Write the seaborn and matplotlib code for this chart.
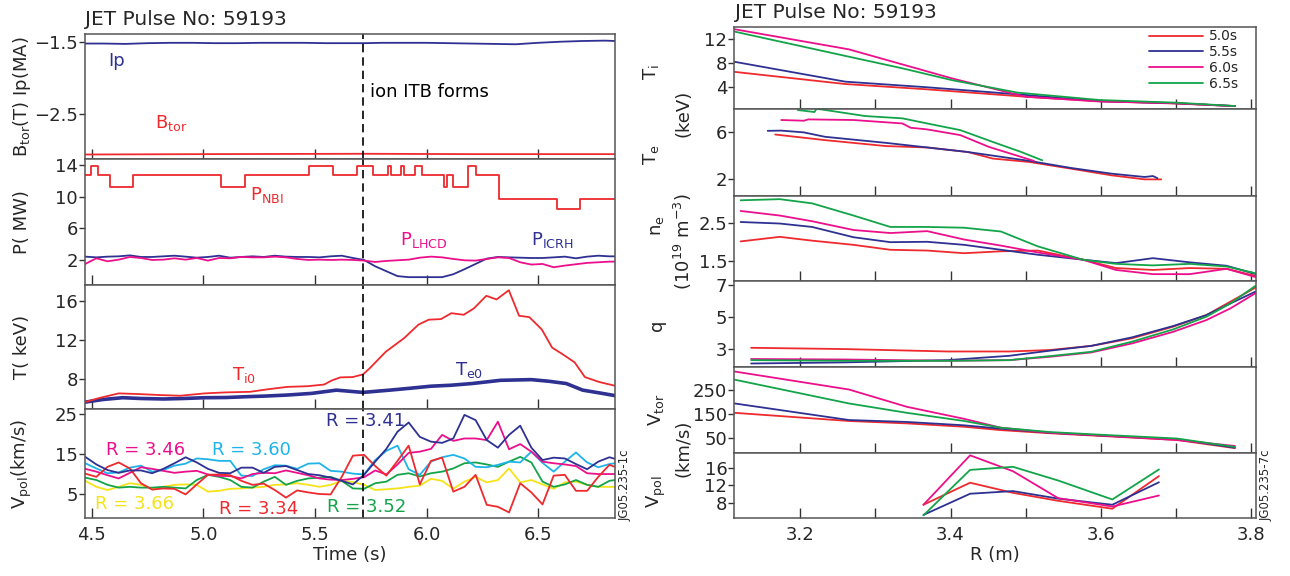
import matplotlib
matplotlib.use('Agg')
import matplotlib.pyplot as plt
import seaborn as sns

sns.set_theme(style='white')
plt.rcParams['font.family'] = ['DejaVu Sans']
plt.rcParams['mathtext.default'] = 'regular'
plt.rcParams['axes.unicode_minus'] = True

RED = '#ee2a2e'
NAVY = '#2e3192'
MAGENTA = '#ec0f8c'
GREEN = '#13a44a'
CYAN = '#1eb4ea'
YELLOW = '#f5e31a'

ITB_TIME = 5.715

# ---------------- left column: time traces ----------------
IP_T = [4.47, 4.55, 4.65, 4.75, 4.85, 4.95, 5.05, 5.15, 5.25, 5.35, 5.45, 5.55, 5.65, 5.72,
        5.8, 5.9, 6.0, 6.1, 6.2, 6.3, 6.4, 6.5, 6.6, 6.7, 6.8, 6.845]
IP_MA = [-1.525, -1.525, -1.53, -1.52, -1.515, -1.515, -1.52, -1.52, -1.515, -1.515, -1.515,
         -1.52, -1.52, -1.52, -1.515, -1.515, -1.515, -1.52, -1.525, -1.53, -1.535, -1.515,
         -1.50, -1.49, -1.485, -1.49]
BTOR_T = [4.47, 5.0, 5.72, 6.2, 6.845]
BTOR_VAL = [-3.05, -3.045, -3.04, -3.045, -3.045]

NBI_T = [4.467, 4.494, 4.528, 4.583, 4.684, 5.080, 5.185, 5.471, 5.581, 5.688, 5.762, 5.826,
         5.841, 5.887, 5.900, 5.949, 5.982, 6.080, 6.093, 6.117, 6.185, 6.222, 6.323, 6.585,
         6.686, 6.848]
NBI_MW = [12.7, 13.9, 12.7, 11.25, 12.7, 11.25, 12.7, 13.9, 12.7, 13.9, 12.7, 13.9,
          12.7, 13.9, 12.7, 13.9, 12.7, 11.25, 12.7, 11.25, 13.9, 12.7, 9.66, 8.4,
          9.66, 9.66]

T_GRID = [4.47, 4.52, 4.57, 4.62, 4.67, 4.72, 4.77, 4.82, 4.87, 4.92, 4.97, 5.02, 5.07,
          5.12, 5.17, 5.22, 5.27, 5.32, 5.37, 5.42, 5.47, 5.52, 5.57, 5.62, 5.67, 5.72,
          5.77, 5.82, 5.87, 5.92, 5.97, 6.02, 6.07, 6.12, 6.17, 6.22, 6.27, 6.32, 6.37,
          6.42, 6.47, 6.52, 6.57, 6.62, 6.67, 6.72, 6.77, 6.82, 6.845]

ICRH_MW = [2.42, 2.33, 2.42, 2.46, 2.58, 2.38, 2.38, 2.46, 2.54, 2.42, 2.29, 2.38, 2.54,
           2.29, 2.38, 2.46, 2.38, 2.54, 2.42, 2.38, 2.38, 2.33, 2.46, 2.54, 2.25, 2.0,
           1.2, 0.58, -0.04, -0.17, -0.17, -0.17, -0.17, 0.2, 0.83, 1.5, 2.17, 2.38,
           2.33, 2.29, 2.25, 2.25, 2.33, 2.42, 2.21, 2.42, 2.54, 2.46, 2.46]
LHCD_MW = [1.5, 2.21, 1.83, 2.04, 2.38, 2.25, 2.0, 2.04, 2.21, 2.04, 2.25, 1.92, 2.25,
           2.21, 2.38, 2.33, 2.33, 2.42, 2.33, 2.13, 2.0, 2.04, 2.0, 2.04, 2.0, 1.92,
           1.75, 1.88, 1.96, 2.04, 2.29, 2.42, 2.33, 2.13, 1.96, 1.92, 2.13, 2.33,
           2.25, 1.71, 1.42, 1.5, 1.08, 1.29, 1.46, 1.63, 1.71, 1.79, 1.79]

TI0_T = [4.467, 4.528, 4.62, 4.712, 4.804, 4.896, 5.006, 5.099, 5.209, 5.283, 5.375, 5.467,
         5.541, 5.577, 5.614, 5.669, 5.715, 5.743, 5.817, 5.9, 5.964, 6.01, 6.065, 6.111,
         6.167, 6.213, 6.268, 6.314, 6.369, 6.415, 6.461, 6.517, 6.563, 6.609, 6.664,
         6.71, 6.774, 6.848]
TI0_KEV = [5.67, 6.07, 6.57, 6.5, 6.4, 6.33, 6.57, 6.67, 6.73, 6.97, 7.23, 7.3, 7.47, 7.9,
           8.2, 8.23, 8.5, 9.07, 10.8, 12.2, 13.57, 14.07, 14.13, 14.73, 14.57, 15.23,
           16.5, 16.13, 17.07, 14.47, 14.33, 13.07, 11.23, 10.57, 9.73, 8.23, 7.73, 7.33]
TE0_T = [4.467, 4.55, 4.638, 4.72, 4.822, 4.91, 5.006, 5.10, 5.19, 5.28, 5.375, 5.485,
         5.596, 5.715, 5.835, 5.93, 6.019, 6.11, 6.203, 6.332, 6.47, 6.55, 6.627, 6.70,
         6.78, 6.848]
TE0_KEV = [5.67, 5.95, 6.13, 6.05, 6.0, 6.05, 6.13, 6.15, 6.23, 6.3, 6.4, 6.57, 6.9, 6.67,
           6.9, 7.1, 7.3, 7.4, 7.57, 7.9, 7.97, 7.8, 7.57, 6.9, 6.6, 6.33]

VPOL_334 = [10.1, 9.3, 11.8, 12.9, 11.4, 7.7, 6.1, 6.4, 6.3, 4.9, 7.4, 9.8, 9.9, 9.7, 8.3,
            7.3, 7.6, 6.0, 4.1, 5.9, 5.4, 5.0, 4.9, 9.3, 14.6, 14.8, 12.0, 9.6, 13.3, 17.1,
            7.4, 13.3, 14.1, 5.6, 6.8, 9.8, 2.3, 1.8, 0.4, 7.7, 5.4, 2.4, 9.6, 9.8, 5.8,
            5.8, 9.3, 12.3, 11.8]
VPOL_341 = [14.3, 12.4, 11.0, 10.3, 10.9, 10.9, 10.2, 11.3, 12.7, 14.2, 12.9, 11.3, 10.3,
            10.2, 11.6, 11.6, 10.3, 11.8, 12.0, 11.0, 10.0, 9.7, 9.1, 8.3, 7.4, 9.8, 13.1,
            16.3, 20.6, 22.9, 19.3, 18.1, 17.8, 18.9, 24.8, 23.5, 18.5, 16.6, 19.8, 22.1,
            16.6, 13.5, 14.1, 13.9, 12.5, 11.2, 13.1, 14.2, 13.8]
VPOL_346 = [11.3, 10.6, 9.7, 8.9, 10.3, 11.7, 11.3, 10.8, 10.3, 10.6, 10.8, 9.9, 9.5, 9.5,
            8.9, 10.0, 10.3, 10.2, 10.9, 10.3, 9.7, 8.9, 8.6, 8.5, 8.8, 9.2, 10.9, 9.9,
            12.4, 15.3, 15.6, 16.3, 19.8, 18.3, 18.9, 18.9, 18.5, 23.1, 16.2, 17.5, 15.6,
            13.1, 12.7, 12.4, 12.0, 10.2, 10.0, 10.0, 10.0]
VPOL_352 = [9.1, 8.5, 7.3, 6.6, 6.8, 6.6, 6.6, 6.8, 6.6, 6.4, 8.5, 9.8, 9.3, 8.5, 6.8, 6.6,
            8.1, 9.3, 7.3, 8.3, 8.9, 9.1, 9.3, 8.3, 6.4, 6.3, 7.7, 8.1, 9.8, 10.2, 9.4,
            10.2, 10.6, 11.4, 12.7, 12.9, 12.4, 11.8, 13.1, 14.3, 12.9, 8.1, 6.8, 7.4, 8.5,
            7.3, 6.8, 8.3, 8.5]
VPOL_360 = [12.7, 11.4, 10.2, 10.4, 11.6, 12.1, 10.6, 11.0, 12.1, 12.6, 13.9, 13.7, 13.3,
            13.3, 9.6, 9.5, 11.2, 12.2, 12.1, 11.3, 12.6, 12.7, 10.8, 10.6, 10.1, 9.9, 13.5,
            15.8, 17.1, 11.2, 9.8, 13.1, 14.2, 14.8, 13.9, 11.8, 11.7, 12.3, 13.1, 12.9,
            15.6, 12.8, 10.6, 13.1, 15.4, 12.9, 11.7, 12.5, 12.7]
VPOL_366 = [8.3, 6.8, 6.0, 6.8, 7.7, 7.3, 6.3, 6.8, 7.3, 7.4, 7.3, 5.6, 5.8, 6.3, 6.4, 6.6,
            6.8, 7.3, 7.4, 7.7, 7.3, 6.8, 7.3, 8.3, 8.0, 7.3, 6.0, 6.2, 6.4, 6.8, 7.1, 8.8,
            8.3, 6.3, 8.1, 9.3, 7.9, 8.5, 11.4, 7.9, 8.5, 7.4, 6.3, 7.9, 8.1, 7.3, 6.8,
            6.8, 6.8]

# ---------------- right column: radial profiles ----------------
PROFILE_LABELS = ['5.0s', '5.5s', '6.0s', '6.5s']
PROFILE_COLORS = [RED, NAVY, MAGENTA, GREEN]

TI_R = [[3.113, 3.26, 3.369, 3.5, 3.598, 3.70, 3.778],
        [3.113, 3.26, 3.369, 3.5, 3.598, 3.70, 3.778],
        [3.113, 3.265, 3.402, 3.5, 3.598, 3.70, 3.778],
        [3.113, 3.26, 3.336, 3.402, 3.489, 3.598, 3.70, 3.778]]
TI_KEV = [[6.5, 4.45, 3.55, 2.3, 1.55, 1.15, 0.73],
          [8.2, 4.85, 3.9, 2.6, 1.55, 1.2, 0.73],
          [13.7, 10.3, 5.4, 2.3, 1.5, 1.2, 0.7],
          [13.3, 9.2, 7.1, 5.1, 3.0, 1.75, 1.3, 0.73]]

TE_R = [[3.167, 3.233, 3.314, 3.369, 3.423, 3.456, 3.505, 3.56, 3.614, 3.658, 3.68],
        [3.157, 3.175, 3.205, 3.233, 3.314, 3.423, 3.505, 3.56, 3.614, 3.658, 3.669, 3.675],
        [3.175, 3.205, 3.211, 3.271, 3.336, 3.347, 3.369, 3.413, 3.451, 3.511],
        [3.197, 3.219, 3.222, 3.287, 3.336, 3.369, 3.413, 3.456, 3.494, 3.522]]
TE_KEV = [[5.77, 5.3, 4.8, 4.68, 4.3, 3.75, 3.46, 2.9, 2.34, 2.0, 2.0],
          [6.08, 6.1, 5.95, 5.58, 5.07, 4.3, 3.55, 2.96, 2.48, 2.2, 2.28, 2.1],
          [6.99, 6.93, 7.04, 6.99, 6.7, 6.34, 6.2, 5.72, 4.73, 3.55],
          [7.83, 7.66, 7.94, 7.32, 7.13, 6.7, 6.14, 5.15, 4.3, 3.6]]

NE_R = [3.121, 3.173, 3.216, 3.271, 3.32, 3.369, 3.418, 3.467, 3.516, 3.576, 3.62, 3.669,
        3.718, 3.767, 3.806]
NE_VAL = [[2.01, 2.13, 2.03, 1.92, 1.79, 1.77, 1.70, 1.75, 1.77, 1.53, 1.31, 1.26, 1.31, 1.29, 1.10],
          [2.52, 2.48, 2.39, 2.12, 1.99, 2.0, 1.92, 1.79, 1.66, 1.53, 1.44, 1.57, 1.46, 1.37, 1.15],
          [2.81, 2.69, 2.54, 2.31, 2.23, 2.28, 2.06, 1.90, 1.72, 1.53, 1.26, 1.15, 1.15, 1.29, 1.07],
          [3.09, 3.12, 3.01, 2.69, 2.39, 2.39, 2.37, 2.27, 1.88, 1.53, 1.42, 1.38, 1.42, 1.35, 1.17]]

Q_R = [3.135, 3.26, 3.396, 3.478, 3.532, 3.587, 3.641, 3.696, 3.74, 3.772, 3.805]
Q_VAL = [[3.08, 3.0, 2.85, 2.85, 2.94, 3.2, 3.67, 4.4, 5.12, 5.96, 6.83],
         [2.1, 2.17, 2.31, 2.58, 2.9, 3.2, 3.73, 4.44, 5.12, 5.85, 6.58],
         [2.38, 2.35, 2.27, 2.31, 2.52, 2.79, 3.35, 4.08, 4.81, 5.54, 6.48],
         [2.31, 2.27, 2.27, 2.31, 2.56, 2.83, 3.46, 4.23, 5.02, 5.85, 6.94]]

VTOR_R = [3.113, 3.265, 3.342, 3.418, 3.467, 3.532, 3.598, 3.701, 3.778]
VTOR_VAL = [[156, 122, 112, 98, 84, 71, 60, 43, 9],
            [195, 126, 118, 104, 90, 73, 62, 46, 11],
            [328, 253, 181, 131, 94, 73, 62, 43, 18],
            [294, 195, 156, 122, 94, 76, 65, 49, 14]]

VPOLR_R = [3.364, 3.426, 3.483, 3.543, 3.615, 3.677]
VPOLR_VAL = [[7.6, 12.6, 10.3, 8.5, 6.7, 14.1],
             [5.3, 10.1, 10.7, 9.0, 7.6, 12.7],
             [7.6, 18.8, 15.2, 9.1, 7.2, 9.7],
             [5.2, 15.5, 16.2, 13.1, 8.8, 15.6]]

# ---------------- figure ----------------
FS = 13
fig = plt.figure(figsize=(12.9, 5.76), dpi=100)
W, H = 1290.0, 576.0


def add_panel(left, right, top, bottom):
    return fig.add_axes([left / W, 1 - bottom / H, (right - left) / W, (bottom - top) / H])


def style(ax, xlab=False):
    ax.set_facecolor('white')
    for s in ax.spines.values():
        s.set_color('#555555')
        s.set_linewidth(1.1)
    ax.tick_params(axis='x', which='both', direction='in', length=7, width=1.0,
                   color='#333333', bottom=True, top=False, labelbottom=xlab,
                   labelsize=FS, pad=6)
    ax.tick_params(axis='y', which='both', direction='out', length=4, width=1.0,
                   color='#333333', left=True, right=False, labelsize=FS, pad=1)
    ax.grid(False)


def line(ax, x, y, color, lw=1.3, **kw):
    sns.lineplot(x=x, y=y, ax=ax, color=color, linewidth=lw, estimator=None,
                 sort=False, **kw)


LX0, LX1 = 85, 615
left_edges = [34.3, 159.3, 285.0, 409.3, 518.0]
axL = [add_panel(LX0, LX1, left_edges[i], left_edges[i + 1]) for i in range(4)]
TLIM = (4.469, 6.845)

# panel 1: Ip / Btor
ax = axL[0]
line(ax, IP_T, IP_MA, NAVY)
line(ax, BTOR_T, BTOR_VAL, RED)
ax.set_ylim(-3.116, -1.398)
ax.set_yticks([-1.5, -2.5])
ax.text(4.572, -1.835, 'Ip', color=NAVY, fontsize=FS, va='baseline')
ax.text(4.783, -2.69, r'B$_{tor}$', color=RED, fontsize=FS, va='baseline')
ax.text(5.747, -2.255, 'ion ITB forms', color='black', fontsize=FS, va='baseline')

# panel 2: powers
ax = axL[1]
line(ax, NBI_T, NBI_MW, RED, drawstyle='steps-post')
line(ax, T_GRID, ICRH_MW, NAVY)
line(ax, T_GRID, LHCD_MW, MAGENTA)
ax.set_ylim(-1.16, 14.71)
ax.set_yticks([2, 6, 10, 14])
ax.text(5.209, 9.58, r'P$_{NBI}$', color=RED, fontsize=FS, va='baseline')
ax.text(5.88, 3.9, r'P$_{LHCD}$', color=MAGENTA, fontsize=FS, va='baseline')
ax.text(6.469, 3.9, r'P$_{ICRH}$', color=NAVY, fontsize=FS, va='baseline')

# panel 3: central temperatures
ax = axL[2]
line(ax, TE0_T, TE0_KEV, NAVY, lw=2.6)
line(ax, TI0_T, TI0_KEV, RED)
ax.set_ylim(4.95, 17.6)
ax.set_yticks([8, 12, 16])
ax.text(5.128, 7.93, r'T$_{i0}$', color=RED, fontsize=FS, va='baseline')
ax.text(6.128, 8.44, r'T$_{e0}$', color=NAVY, fontsize=FS, va='baseline')

# panel 4: poloidal rotation
ax = axL[3]
for vals, col in [(VPOL_366, YELLOW), (VPOL_352, GREEN), (VPOL_360, CYAN),
                  (VPOL_346, MAGENTA), (VPOL_334, RED), (VPOL_341, NAVY)]:
    line(ax, T_GRID, vals, col)
ax.set_ylim(-1.0, 26.2)
ax.set_yticks([5, 15, 25])
ax.text(5.549, 22.1, 'R = 3.41', color=NAVY, fontsize=FS, va='baseline')
ax.text(4.563, 14.75, 'R = 3.46', color=MAGENTA, fontsize=FS, va='baseline')
ax.text(5.04, 14.75, 'R = 3.60', color=CYAN, fontsize=FS, va='baseline')
ax.text(4.513, 1.3, 'R = 3.66', color=YELLOW, fontsize=FS, va='baseline')
ax.text(5.068, 0.1, 'R = 3.34', color=RED, fontsize=FS, va='baseline')
ax.text(5.554, 0.4, 'R = 3.52', color=GREEN, fontsize=FS, va='baseline')

for i, ax in enumerate(axL):
    ax.set_xlim(*TLIM)
    ax.set_xticks([4.5, 5.0, 5.5, 6.0, 6.5])
    ax.axvline(ITB_TIME, color='black', lw=1.2, ls=(0, (5, 3)))
    style(ax, xlab=(i == 3))
    ax.set_xlabel('')
    ax.set_ylabel('')

# ---------------- right column ----------------
RX0, RX1 = 734.3, 1256.0
right_edges = [26.7, 109.3, 196.5, 281.0, 366.7, 452.7, 518.0]
axR = [add_panel(RX0, RX1, right_edges[i], right_edges[i + 1]) for i in range(6)]

ax = axR[0]
for r, v, c, lab in zip(TI_R, TI_KEV, PROFILE_COLORS, PROFILE_LABELS):
    line(ax, r, v, c, label=lab)
ax.set_ylim(0.18, 14.13)
ax.set_yticks([4, 8, 12])
handles, labels = ax.get_legend_handles_labels()
ax.legend(handles, labels, loc='upper right', bbox_to_anchor=(1238 / W, 1 - 29.5 / H),
          bbox_transform=fig.transFigure, frameon=False, fontsize=10, handlelength=3.9,
          handletextpad=0.4, labelspacing=0.12, borderpad=0, borderaxespad=0)

ax = axR[1]
for r, v, c in zip(TE_R, TE_KEV, PROFILE_COLORS):
    line(ax, r, v, c)
ax.set_ylim(0.56, 7.89)
ax.set_yticks([2, 6])

ax = axR[2]
for v, c in zip(NE_VAL, PROFILE_COLORS):
    line(ax, NE_R, v, c)
ax.set_ylim(0.97, 3.19)
ax.set_yticks([1.5, 2.5])

ax = axR[3]
for v, c in zip(Q_VAL, PROFILE_COLORS):
    line(ax, Q_R, v, c)
ax.set_ylim(1.9, 7.25)
ax.set_yticks([3, 5, 7])

ax = axR[4]
for v, c in zip(VTOR_VAL, PROFILE_COLORS):
    line(ax, VTOR_R, v, c)
ax.set_ylim(-10, 348)
ax.set_yticks([50, 150, 250])

ax = axR[5]
for v, c in zip(VPOLR_VAL, PROFILE_COLORS):
    line(ax, VPOLR_R, v, c)
ax.set_ylim(4.6, 19.4)
ax.set_yticks([8, 12, 16])

for i, ax in enumerate(axR):
    ax.set_xlim(3.1126, 3.806)
    ax.set_xticks([3.2, 3.4, 3.6, 3.8])
    ax.set_xticks([3.3, 3.5, 3.7], minor=True)
    style(ax, xlab=(i == 5))
    ax.set_xlabel('')
    ax.set_ylabel('')

# ---------------- figure texts ----------------
def ftext(x, y, s, **kw):
    fig.text(x / W, 1 - y / H, s, **kw)

ftext(85, 25, 'JET Pulse No: 59193', fontsize=14.5, va='baseline', ha='left')
ftext(735, 18.3, 'JET Pulse No: 59193', fontsize=14.5, va='baseline', ha='left')

rot = dict(rotation=90, ha='center', va='center', fontsize=FS)
ftext(22, 97, r'B$_{tor}$(T) Ip(MA)', **rot)
ftext(22, 222, 'P( MW)', **rot)
ftext(22, 347, 'T( keV)', **rot)
ftext(22, 464, r'V$_{pol}$(km/s)', **rot)

ftext(651, 72, r'T$_{i}$', **rot)
ftext(683, 113, '(keV)', **rot)
ftext(651, 155, r'T$_{e}$', **rot)
ftext(657, 226, r'n$_{e}$', **rot)
ftext(683, 242, r'(10$^{19}$ m$^{-3}$)', **rot)
ftext(657, 325, 'q', **rot)
ftext(656, 410, r'V$_{tor}$', **rot)
ftext(683, 448, '(km/s)', **rot)
ftext(656, 492, r'V$_{pol}$', **rot)

ftext(350, 555, 'Time (s)', ha='center', va='center', fontsize=FS)
ftext(994.5, 555, 'R (m)', ha='center', va='center', fontsize=FS)

ftext(625, 485, 'JG05.235-1c', rotation=90, ha='center', va='center', fontsize=8.5)
ftext(1266, 485, 'JG05.235-7c', rotation=90, ha='center', va='center', fontsize=8.5)

fig.savefig('out.png', dpi=100, facecolor='white')
